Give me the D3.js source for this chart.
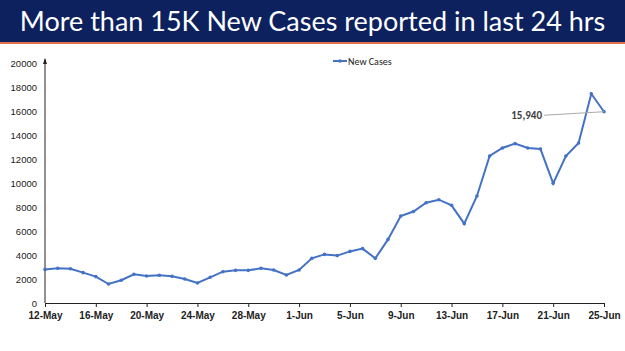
<!DOCTYPE html>
<html>
<head>
<meta charset="utf-8">
<script src="https://cdn.jsdelivr.net/npm/d3@7"></script>
<style>
  body { margin: 0; background: #fff; }
  svg { display: block; font-family: Calibri, "Liberation Sans", Arial, sans-serif; }
</style>
</head>
<body>
<div id="chart"></div>
<script>
const W = 625, H = 351;

// dates 12-May .. 25-Jun (2020)
const startDate = new Date(2020, 4, 12);
const newCases = [
  2800, 2890, 2860, 2530, 2200, 1580, 1900, 2390, 2250, 2310,
  2220, 2000, 1670, 2140, 2610, 2720, 2720, 2890, 2750, 2330,
  2750, 3720, 4050, 3950, 4300, 4530, 3720, 5300, 7250, 7620,
  8360, 8610, 8140, 6610, 8920, 12250, 12920, 13280, 12920, 12830,
  9970, 12250, 13330, 17440, 15940
];
const dates = newCases.map((_, i) => d3.timeDay.offset(startDate, i));
const yTicks = [0, 2000, 4000, 6000, 8000, 10000, 12000, 14000, 16000, 18000, 20000];
const xTickDates = dates.filter((d, i) => i % 4 === 0);
const seriesName = "New Cases";
const title = "More than 15K New Cases reported in last 24 hrs";
const calloutText = "15,940";

const svg = d3.select("#chart").append("svg")
    .attr("width", W)
    .attr("height", H);

// Title banner
svg.append("rect").attr("x", 0).attr("y", 0).attr("width", W).attr("height", 42).attr("fill", "#0c215e");
svg.append("rect").attr("x", 0).attr("y", 42).attr("width", W).attr("height", 2).attr("fill", "#e0714a");
svg.append("text")
    .attr("x", W / 2).attr("y", 31)
    .attr("text-anchor", "middle")
    .attr("fill", "#fff")
    .style("font-family", "Lato, 'Open Sans', sans-serif")
    .style("font-size", "27px")
    .text(title);

const margin = { top: 63, left: 45, right: 21, bottom: 48 };
const x = d3.scaleTime()
    .domain([dates[0], dates[dates.length - 1]])
    .range([margin.left, W - margin.right]);
const y = d3.scaleLinear()
    .domain([0, 20000])
    .range([H - margin.bottom, margin.top]);

// Y axis (line + arrow, labels only)
const yAxis = svg.append("g")
    .attr("transform", `translate(${margin.left},0)`)
    .call(d3.axisLeft(y).tickValues(yTicks).tickSize(0).tickPadding(8).tickFormat(d3.format("d")));
yAxis.select(".domain").remove();
yAxis.selectAll("text").style("font-size", "9.5px").attr("fill", "#222");
svg.append("line")
    .attr("x1", margin.left).attr("x2", margin.left)
    .attr("y1", y(0)).attr("y2", y(20000) - 4)
    .attr("stroke", "#222").attr("stroke-width", 1);
svg.append("path")
    .attr("d", `M${margin.left - 2},${y(20000) + 1}L${margin.left},${y(20000) - 5}L${margin.left + 2},${y(20000) + 1}Z`)
    .attr("fill", "#222");

// X axis
const xAxis = svg.append("g")
    .attr("transform", `translate(0,${y(0)})`)
    .call(d3.axisBottom(x).tickValues(xTickDates).tickSize(4).tickPadding(5).tickFormat(d3.timeFormat("%-d-%b")));
xAxis.select(".domain").attr("stroke", "#222");
xAxis.selectAll(".tick line").attr("stroke", "#222");
xAxis.selectAll("text").style("font-size", "10px").style("font-weight", "bold").attr("fill", "#222");

// Line
const line = d3.line()
    .x((d, i) => x(dates[i]))
    .y(d => y(d));
svg.append("path")
    .datum(newCases)
    .attr("fill", "none")
    .attr("stroke", "#4472c4")
    .attr("stroke-width", 2)
    .attr("d", line);
svg.selectAll(".dot")
    .data(newCases)
    .enter().append("circle")
    .attr("class", "dot")
    .attr("cx", (d, i) => x(dates[i]))
    .attr("cy", d => y(d))
    .attr("r", 1.8)
    .attr("fill", "#4472c4");

// Callout for last point
const last = newCases.length - 1;
svg.append("line")
    .attr("x1", 544).attr("y1", y(newCases[last]) + 3.5)
    .attr("x2", x(dates[last])).attr("y2", y(newCases[last]))
    .attr("stroke", "#aaa").attr("stroke-width", 1);
svg.append("text")
    .attr("x", 542).attr("y", y(newCases[last]) + 7.5)
    .attr("text-anchor", "end")
    .style("font-size", "11px").style("font-weight", "bold")
    .attr("fill", "#404040")
    .text(calloutText);

// Legend
const legend = svg.append("g").attr("transform", "translate(333,61)");
legend.append("line").attr("x1", 0).attr("x2", 14).attr("y1", 0).attr("y2", 0)
    .attr("stroke", "#4472c4").attr("stroke-width", 2);
legend.append("circle").attr("cx", 7).attr("cy", 0).attr("r", 1.8).attr("fill", "#4472c4");
legend.append("text").attr("x", 15).attr("y", 3.5)
    .style("font-size", "10px").attr("fill", "#222")
    .text(seriesName);
</script>
</body>
</html>
